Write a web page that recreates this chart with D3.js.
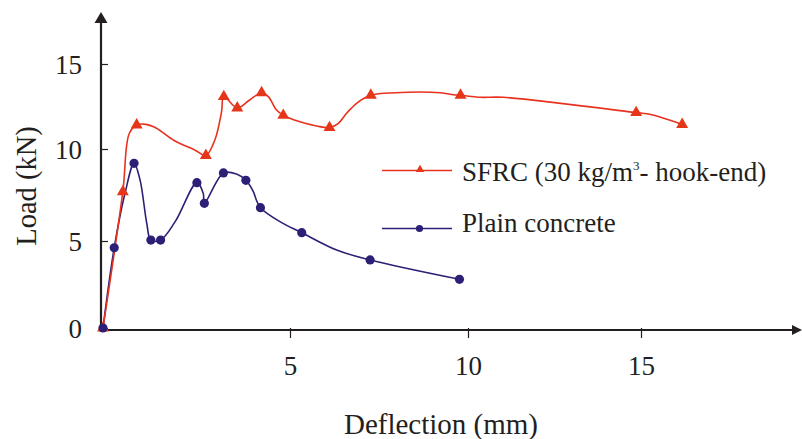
<!DOCTYPE html>
<html>
<head>
<meta charset="utf-8">
<script src="https://cdn.jsdelivr.net/npm/d3@7"></script>
<style>
  body { margin: 0; background: #fff; }
  text { font-family: "Liberation Serif", "Times New Roman", serif; fill: #231f20; }
</style>
</head>
<body>
<div id="chart"></div>
<script>
// SFRC curve (marked = 1 where the original shows a triangle)
const sfrcDeflection = [0, 0.53, 0.70, 0.90, 1.15, 1.43, 1.90, 2.45, 2.75, 2.99, 3.17, 3.23, 3.59, 3.93, 4.24, 4.42, 4.64, 4.82, 5.28, 5.75, 6.11, 6.36, 6.59, 6.87, 7.27, 7.96, 9.22, 9.59, 9.79, 10.35, 11.02, 14.86, 15.28, 16.19];
const sfrcLoad       = [0, 7.68, 10.9, 11.41, 11.45, 11.22, 10.5, 9.95, 9.65, 10.53, 12.19, 13.08, 12.41, 12.9, 13.31, 13.08, 12.29, 11.98, 11.6, 11.35, 11.26, 11.51, 12.1, 12.69, 13.16, 13.31, 13.31, 13.19, 13.16, 13.04, 13.04, 12.14, 12.03, 11.44];
const sfrcMarked     = [1, 1, 0, 1, 0, 0, 0, 0, 1, 0, 0, 1, 1, 0, 1, 0, 0, 1, 0, 0, 1, 0, 0, 0, 1, 0, 0, 0, 1, 0, 0, 1, 0, 1];

// Plain concrete curve
const plainDeflection = [0, 0.30, 0.59, 0.83, 0.99, 1.17, 1.28, 1.54, 1.93, 2.51, 2.68, 2.71, 3.22, 3.57, 3.82, 4.02, 4.10, 4.21, 4.73, 5.33, 6.31, 7.25, 9.76];
const plainLoad       = [0, 4.61, 7.61, 9.22, 8.32, 5.96, 5.05, 5.05, 6.05, 8.17, 7.59, 7.05, 8.70, 8.64, 8.30, 7.68, 7.23, 6.81, 6.05, 5.45, 4.48, 3.91, 2.80];
const plainMarked     = [1, 1, 0, 1, 0, 0, 1, 1, 0, 1, 0, 1, 1, 0, 1, 0, 0, 1, 0, 1, 0, 1, 1];

const xTicks = [5, 10, 15];
const yTicks = [0, 5, 10, 15];
const seriesNames = ["SFRC (30 kg/m", "3", "- hook-end)", "Plain concrete"];

const red = "#e8321e";
const blue = "#2b2075";

const width = 802, height = 439;

const svg = d3.select("#chart").append("svg")
    .attr("width", width)
    .attr("height", height);

// the printed axes are slightly uneven, so the scales follow the tick positions
const x = d3.scaleLinear()
    .domain([0, 5, 10, 15, 20])
    .range([103, 290, 468, 641, 814]);

const y = d3.scaleLinear()
    .domain([0, 5, 10, 15, 18])
    .range([328, 241, 149, 64, 13]);

const axisX0 = x(0) - 2;
const axisY0 = y(0) + 2;

// x axis
const xAxis = svg.append("g")
    .attr("transform", `translate(0,${axisY0})`)
    .call(d3.axisBottom(x).tickValues(xTicks).tickSize(8).tickPadding(10));
xAxis.select(".domain").remove();
xAxis.selectAll(".tick line").attr("y1", -2).attr("stroke", "#231f20").attr("stroke-width", 1.2);
xAxis.selectAll(".tick text")
    .attr("font-size", 27)
    .attr("y", 45)
    .attr("dy", 0)
    .style("font-family", "Liberation Serif");

// y axis
const yAxis = svg.append("g")
    .attr("transform", `translate(${axisX0},0)`)
    .call(d3.axisLeft(y).tickValues(yTicks).tickSize(3).tickPadding(16));
yAxis.select(".domain").remove();
yAxis.selectAll(".tick line").attr("x2", 7).attr("stroke", "#231f20").attr("stroke-width", 1.2);
yAxis.selectAll(".tick text")
    .attr("font-size", 27)
    .attr("dy", "0.36em")
    .style("font-family", "Liberation Serif");

// axis lines with arrows
svg.append("line")
    .attr("x1", axisX0).attr("x2", 794)
    .attr("y1", axisY0).attr("y2", axisY0)
    .attr("stroke", "#231f20").attr("stroke-width", 2.2);
svg.append("path")
    .attr("d", `M802,${axisY0} L792,${axisY0 - 5} L792,${axisY0 + 5} Z`)
    .attr("fill", "#231f20");

svg.append("line")
    .attr("x1", axisX0).attr("x2", axisX0)
    .attr("y1", axisY0).attr("y2", 20)
    .attr("stroke", "#231f20").attr("stroke-width", 2.2);
svg.append("path")
    .attr("d", `M${axisX0},12 L${axisX0 - 6.5},23 L${axisX0 + 6.5},23 Z`)
    .attr("fill", "#231f20");

// axis titles
svg.append("text")
    .attr("x", 441)
    .attr("y", 434)
    .attr("text-anchor", "middle")
    .attr("font-size", 29)
    .text("Deflection (mm)");

svg.append("text")
    .attr("transform", "translate(36,186) rotate(-90)")
    .attr("text-anchor", "middle")
    .attr("font-size", 28.5)
    .text("Load (kN)");

// curves
const sfrc = sfrcDeflection.map((d, i) => ({ x: d, y: sfrcLoad[i], m: sfrcMarked[i] }));
const plain = plainDeflection.map((d, i) => ({ x: d, y: plainLoad[i], m: plainMarked[i] }));

const line = d3.line()
    .x(d => x(d.x))
    .y(d => y(d.y))
    .curve(d3.curveCatmullRom.alpha(0.5));

svg.append("path")
    .datum(plain)
    .attr("fill", "none")
    .attr("stroke", blue)
    .attr("stroke-width", 1.6)
    .attr("d", line);

svg.append("path")
    .datum(sfrc)
    .attr("fill", "none")
    .attr("stroke", red)
    .attr("stroke-width", 1.6)
    .attr("d", line);

const tri = d3.symbol().type(d3.symbolTriangle).size(62);

svg.selectAll(".sfrc-tri")
    .data(sfrc.filter(d => d.m))
    .enter().append("path")
    .attr("class", "sfrc-tri")
    .attr("transform", d => `translate(${x(d.x)},${y(d.y)})`)
    .attr("d", tri)
    .attr("fill", "#e6361a");

svg.selectAll(".plain-dot")
    .data(plain.filter(d => d.m))
    .enter().append("circle")
    .attr("class", "plain-dot")
    .attr("cx", d => x(d.x))
    .attr("cy", d => y(d.y))
    .attr("r", 4.6)
    .attr("fill", blue);

// legend
const legend = svg.append("g");

legend.append("line")
    .attr("x1", 382).attr("x2", 452)
    .attr("y1", 170.5).attr("y2", 170.5)
    .attr("stroke", red).attr("stroke-width", 1.4);
legend.append("path")
    .attr("transform", "translate(420,169.5)")
    .attr("d", d3.symbol().type(d3.symbolTriangle).size(30))
    .attr("fill", "#e6361a");

const t1 = legend.append("text")
    .attr("x", 462)
    .attr("y", 181)
    .attr("font-size", 27);
t1.append("tspan").text(seriesNames[0]);
t1.append("tspan").attr("font-size", 13).attr("dy", -11).text(seriesNames[1]);
t1.append("tspan").attr("dy", 11).text(seriesNames[2]);

legend.append("line")
    .attr("x1", 382).attr("x2", 452)
    .attr("y1", 228.5).attr("y2", 228.5)
    .attr("stroke", blue).attr("stroke-width", 1.4);
legend.append("circle")
    .attr("cx", 419.5).attr("cy", 228.5)
    .attr("r", 3.6)
    .attr("fill", blue);

legend.append("text")
    .attr("x", 462)
    .attr("y", 232)
    .attr("font-size", 27)
    .text(seriesNames[3]);
</script>
</body>
</html>
